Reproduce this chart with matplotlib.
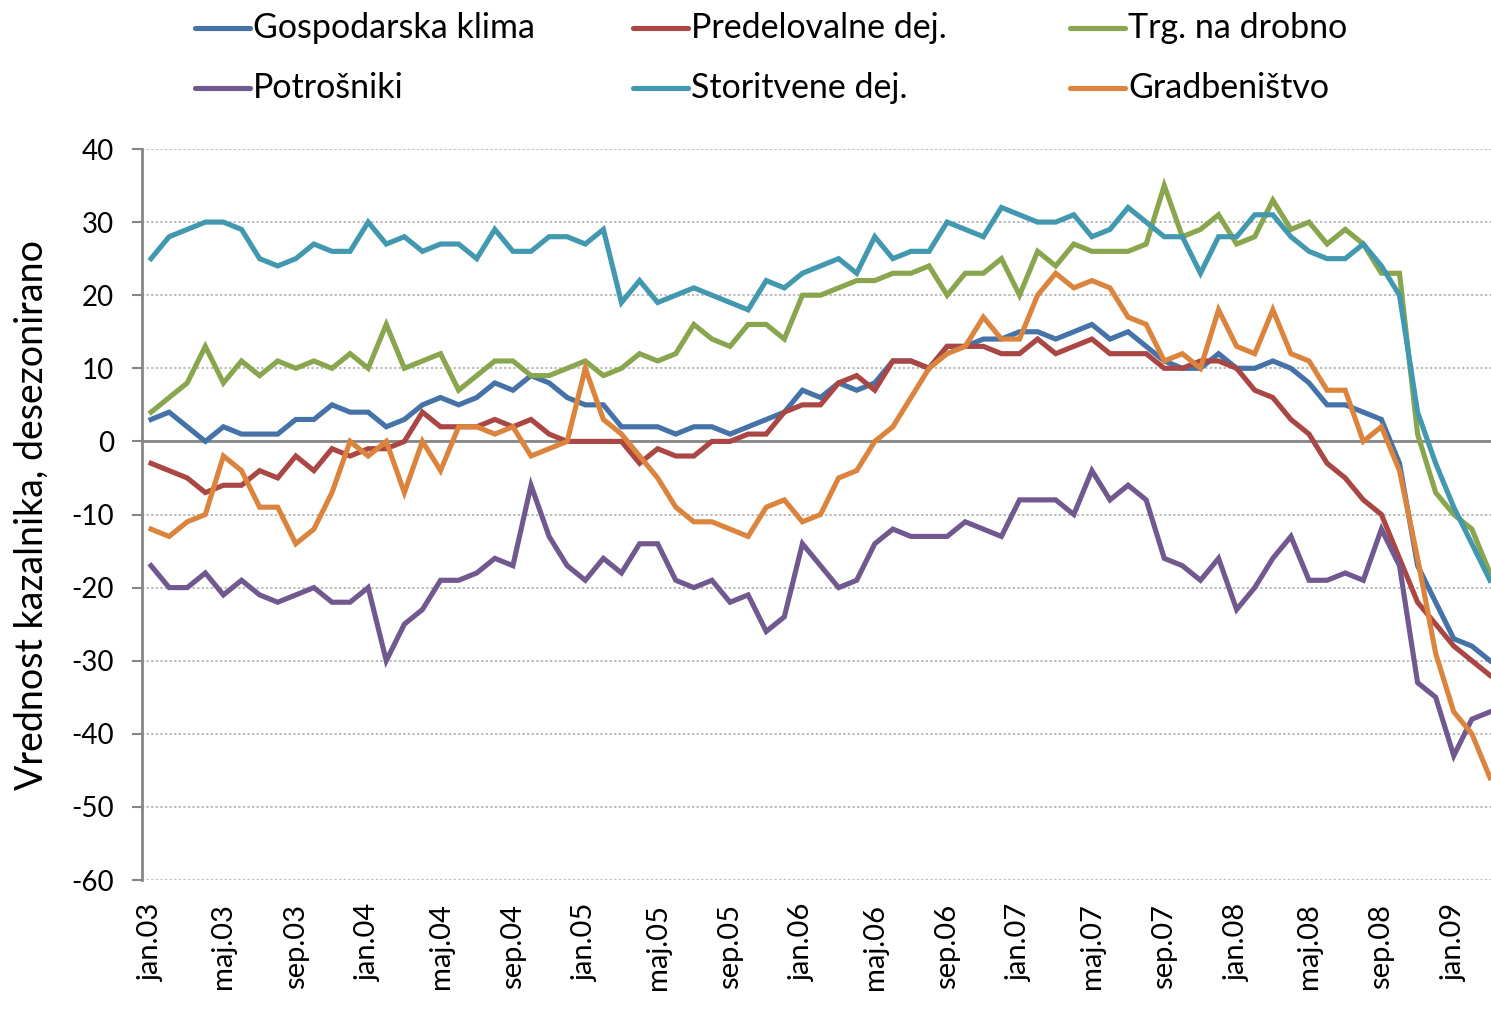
import matplotlib
matplotlib.use("Agg")
import matplotlib.pyplot as plt
from matplotlib.lines import Line2D

plt.rcParams["font.family"] = ["Lato", "DejaVu Sans"]
plt.rcParams["axes.unicode_minus"] = False

# ── Data (monthly, jan.03 – mar.09) ──────────────────────────────────────────

months = ["jan", "feb", "mar", "apr", "maj", "jun",
          "jul", "avg", "sep", "okt", "nov", "dec"]
periods = [f"{months[i % 12]}.{3 + i // 12:02d}" for i in range(75)]

gospodarska = [3, 4, 2, 0, 2, 1, 1, 1, 3, 3,
               5, 4, 4, 2, 3, 5, 6, 5, 6, 8,
               7, 9, 8, 6, 5, 5, 2, 2, 2, 1,
               2, 2, 1, 2, 3, 4, 7, 6, 8, 7,
               8, 11, 11, 10, 13, 13, 14, 14, 15, 15,
               14, 15, 16, 14, 15, 13, 11, 10, 10, 12,
               10, 10, 11, 10, 8, 5, 5, 4, 3, -3,
               -17, -22, -27, -28, -30]

predelovalne = [-3, -4, -5, -7, -6, -6, -4, -5, -2, -4,
                -1, -2, -1, -1, 0, 4, 2, 2, 2, 3,
                2, 3, 1, 0, 0, 0, 0, -3, -1, -2,
                -2, 0, 0, 1, 1, 4, 5, 5, 8, 9,
                7, 11, 11, 10, 13, 13, 13, 12, 12, 14,
                12, 13, 14, 12, 12, 12, 10, 10, 11, 11,
                10, 7, 6, 3, 1, -3, -5, -8, -10, -16,
                -22, -25, -28, -30, -32]

trgovina = [4, 6, 8, 13, 8, 11, 9, 11, 10, 11,
            10, 12, 10, 16, 10, 11, 12, 7, 9, 11,
            11, 9, 9, 10, 11, 9, 10, 12, 11, 12,
            16, 14, 13, 16, 16, 14, 20, 20, 21, 22,
            22, 23, 23, 24, 20, 23, 23, 25, 20, 26,
            24, 27, 26, 26, 26, 27, 35, 28, 29, 31,
            27, 28, 33, 29, 30, 27, 29, 27, 23, 23,
            1, -7, -10, -12, -18]

potrosniki = [-17, -20, -20, -18, -21, -19, -21, -22, -21, -20,
              -22, -22, -20, -30, -25, -23, -19, -19, -18, -16,
              -17, -6, -13, -17, -19, -16, -18, -14, -14, -19,
              -20, -19, -22, -21, -26, -24, -14, -17, -20, -19,
              -14, -12, -13, -13, -13, -11, -12, -13, -8, -8,
              -8, -10, -4, -8, -6, -8, -16, -17, -19, -16,
              -23, -20, -16, -13, -19, -19, -18, -19, -12, -17,
              -33, -35, -43, -38, -37]

storitvene = [25, 28, 29, 30, 30, 29, 25, 24, 25, 27,
              26, 26, 30, 27, 28, 26, 27, 27, 25, 29,
              26, 26, 28, 28, 27, 29, 19, 22, 19, 20,
              21, 20, 19, 18, 22, 21, 23, 24, 25, 23,
              28, 25, 26, 26, 30, 29, 28, 32, 31, 30,
              30, 31, 28, 29, 32, 30, 28, 28, 23, 28,
              28, 31, 31, 28, 26, 25, 25, 27, 24, 20,
              4, -3, -9, -14, -19]

gradbenistvo = [-12, -13, -11, -10, -2, -4, -9, -9, -14, -12,
                -7, 0, -2, 0, -7, 0, -4, 2, 2, 1,
                2, -2, -1, 0, 10, 3, 1, -2, -5, -9,
                -11, -11, -12, -13, -9, -8, -11, -10, -5, -4,
                0, 2, 6, 10, 12, 13, 17, 14, 14, 20,
                23, 21, 22, 21, 17, 16, 11, 12, 10, 18,
                13, 12, 18, 12, 11, 7, 7, 0, 2, -4,
                -16, -29, -37, -40, -46]

series = [
    ("Gospodarska klima", gospodarska, "#4572A7"),
    ("Predelovalne dej.", predelovalne, "#AA4643"),
    ("Trg. na drobno", trgovina, "#89A54E"),
    ("Potrošniki", potrosniki, "#71588F"),
    ("Storitvene dej.", storitvene, "#4198AF"),
    ("Gradbeništvo", gradbenistvo, "#DB843D"),
]

# ── Figure ───────────────────────────────────────────────────────────────────

W, H = 1491, 1018
fig = plt.figure(figsize=(W / 100, H / 100), dpi=100)
ax = fig.add_axes([142 / W, (H - 880) / H, (1499 - 142) / W, (880 - 149) / H])

x = list(range(len(periods)))
for name, vals, col in series:
    ax.plot(x, vals, color=col, lw=3.7, solid_joinstyle="miter", zorder=3)

ax.set_xlim(-0.5, len(periods) - 0.5)
ax.set_ylim(-60, 40)
ax.set_yticks(range(-60, 41, 10))
ax.set_xticks(x[::4])
ax.set_xticklabels(periods[::4], rotation=90, va="top", ha="center")

ax.grid(axis="y", color="#a8a8a8", ls=(0, (1.5, 1.5)), lw=1.1, zorder=0)
ax.axhline(0, color="#868686", lw=2, zorder=2)

for s in ["top", "right", "bottom"]:
    ax.spines[s].set_visible(False)
ax.spines["left"].set_color("#868686")
ax.spines["left"].set_linewidth(2)

ax.tick_params(axis="y", length=7, width=1.5, color="#868686",
               labelsize=20, pad=13)
ax.tick_params(axis="x", length=0, labelsize=21, pad=17)

ax.set_ylabel("Vrednost kazalnika, desezonirano", fontsize=27)
ax.yaxis.set_label_coords(-0.068, 0.5)

# ── Legend (2 rows x 3 columns) ─────────────────────────────────────────────

col_x = [195, 633, 1070]
row_y = [28, 88]
for k, (name, vals, col) in enumerate(series):
    cx = col_x[k % 3]
    cy = H - row_y[k // 3]
    fig.add_artist(Line2D([cx / W, (cx + 55) / W], [cy / H, cy / H],
                          color=col, lw=3.7, solid_capstyle="round"))
    fig.text((cx + 58) / W, cy / H, name, fontsize=24.5, va="center", ha="left")

fig.savefig("out.png", dpi=100)
